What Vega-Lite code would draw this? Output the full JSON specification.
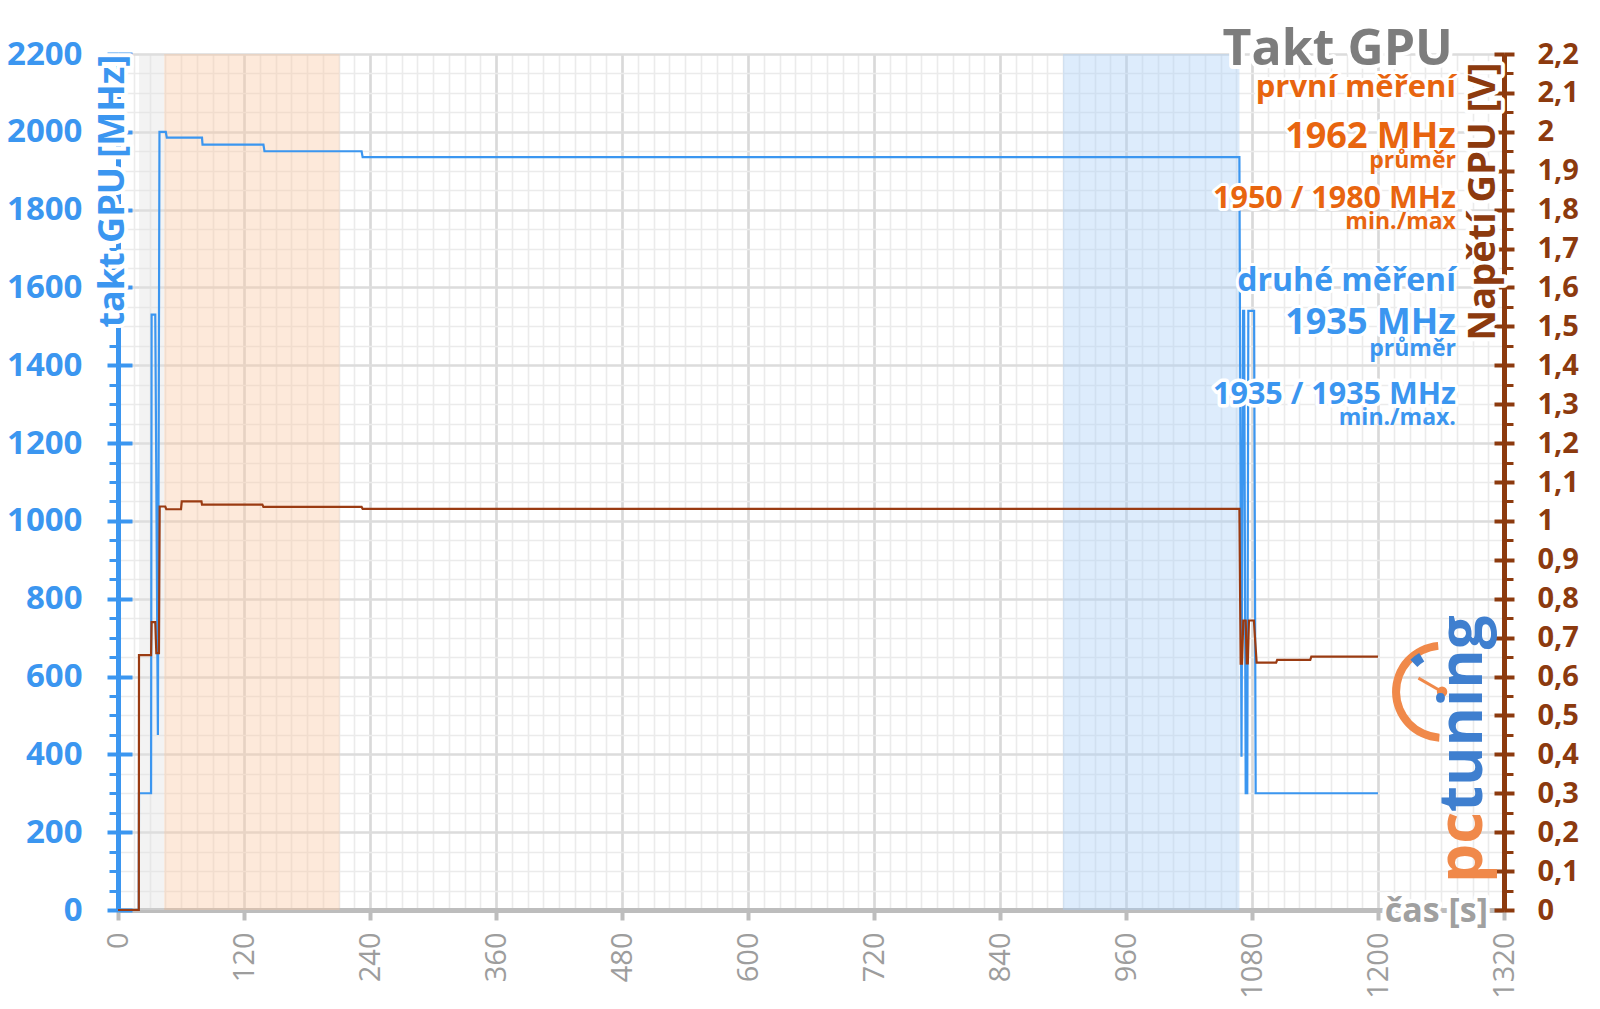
{
  "$schema": "https://vega.github.io/schema/vega-lite/v6.json",
  "width": 1386,
  "height": 856,
  "autosize": {"type": "none"},
  "padding": {"left": 118, "top": 54, "right": 96, "bottom": 99},
  "background": "white",
  "config": {
    "view": {"stroke": null},
    "font": "Open Sans",
    "axis": {"labelFont": "Open Sans", "titleFont": "Open Sans", "labelFlush": false, "labelOverlap": false, "labelBound": false}
  },
  "datasets": {
    "bands": [
      {"start": 20, "end": 44, "kind": "idle"},
      {"start": 44, "end": 211, "kind": "first"},
      {"start": 900, "end": 1068, "kind": "second"}
    ],
    "clock": [
      {"t": 0, "mhz": 0}, {"t": 19.8, "mhz": 0}, {"t": 20, "mhz": 300}, {"t": 31.5, "mhz": 300},
      {"t": 32, "mhz": 1530}, {"t": 35.5, "mhz": 1530}, {"t": 38, "mhz": 450}, {"t": 39.5, "mhz": 2000},
      {"t": 45.5, "mhz": 2000}, {"t": 46.5, "mhz": 1985}, {"t": 80, "mhz": 1985}, {"t": 80.5, "mhz": 1967},
      {"t": 138.5, "mhz": 1967}, {"t": 139.5, "mhz": 1950}, {"t": 232, "mhz": 1950}, {"t": 233, "mhz": 1935},
      {"t": 1068, "mhz": 1935}, {"t": 1070, "mhz": 394}, {"t": 1071.5, "mhz": 1540}, {"t": 1072.5, "mhz": 1540},
      {"t": 1074, "mhz": 300}, {"t": 1075.5, "mhz": 300}, {"t": 1076.5, "mhz": 1540}, {"t": 1082, "mhz": 1540},
      {"t": 1083.5, "mhz": 300}, {"t": 1200, "mhz": 300}
    ],
    "volt": [
      {"t": 0, "v": 0}, {"t": 19.8, "v": 0}, {"t": 20, "v": 0.655}, {"t": 31.5, "v": 0.655},
      {"t": 32, "v": 0.74}, {"t": 35.5, "v": 0.74}, {"t": 36.5, "v": 0.66}, {"t": 39, "v": 0.66},
      {"t": 39.7, "v": 1.037}, {"t": 45, "v": 1.037}, {"t": 46, "v": 1.03}, {"t": 60, "v": 1.03},
      {"t": 60.7, "v": 1.05}, {"t": 79.5, "v": 1.05}, {"t": 80, "v": 1.042}, {"t": 137.5, "v": 1.042},
      {"t": 138.5, "v": 1.036}, {"t": 232, "v": 1.036}, {"t": 233, "v": 1.031}, {"t": 1068, "v": 1.031},
      {"t": 1069.2, "v": 0.633}, {"t": 1070.5, "v": 0.633}, {"t": 1071.7, "v": 0.744}, {"t": 1074, "v": 0.744},
      {"t": 1075, "v": 0.634}, {"t": 1076, "v": 0.634}, {"t": 1077.1, "v": 0.744}, {"t": 1081.8, "v": 0.744},
      {"t": 1084.4, "v": 0.636}, {"t": 1103, "v": 0.636}, {"t": 1104, "v": 0.643}, {"t": 1135.5, "v": 0.643},
      {"t": 1136.5, "v": 0.651}, {"t": 1200, "v": 0.651}
    ]
  },
  "resolve": {"scale": {"y": "independent"}, "axis": {"x": "independent", "y": "independent"}},
  "layer": [
    {
      "data": {"name": "bands"},
      "mark": {"type": "rect", "opacity": 0.4},
      "encoding": {
        "x": {"field": "start", "type": "quantitative", "scale": {"domain": [0, 1320], "nice": false},
          "axis": {"orient": "bottom", "values": [0,15,30,45,60,75,90,105,120,135,150,165,180,195,210,225,240,255,270,285,300,315,330,345,360,375,390,405,420,435,450,465,480,495,510,525,540,555,570,585,600,615,630,645,660,675,690,705,720,735,750,765,780,795,810,825,840,855,870,885,900,915,930,945,960,975,990,1005,1020,1035,1050,1065,1080,1095,1110,1125,1140,1155,1170,1185,1200,1215,1230,1245,1260,1275,1290,1305,1320],
            "grid": true, "gridColor": "#ebebeb", "gridWidth": 1.6, "labels": false, "ticks": false, "domain": false, "title": null}},
        "x2": {"field": "end"},
        "y": {"datum": 0, "type": "quantitative", "scale": {"domain": [0, 2200], "nice": false},
          "axis": {"orient": "left", "values": [0,50,100,150,200,250,300,350,400,450,500,550,600,650,700,750,800,850,900,950,1000,1050,1100,1150,1200,1250,1300,1350,1400,1450,1500,1550,1600,1650,1700,1750,1800,1850,1900,1950,2000,2050,2100,2150,2200],
            "grid": true, "gridColor": "#ebebeb", "gridWidth": 1.6, "labels": false, "ticks": true, "tickColor": "#3b96f0", "tickSize": 9, "tickWidth": 3,
            "domain": true, "domainColor": "#3b96f0", "domainWidth": 5, "title": null}},
        "y2": {"datum": 2200},
        "color": {"field": "kind", "type": "nominal", "scale": {"domain": ["idle", "first", "second"], "range": ["#e2e2e2", "#f9c9a2", "#a9cff7"]}, "legend": null}
      }
    },
    {
      "data": {"name": "clock"},
      "mark": {"type": "line", "color": "#3b96f0", "strokeWidth": 2.2},
      "encoding": {
        "x": {"field": "t", "type": "quantitative", "scale": {"domain": [0, 1320], "nice": false},
          "axis": {"orient": "bottom", "values": [0,120,240,360,480,600,720,840,960,1080,1200,1320], "format": "d", "grid": true, "gridColor": "#d9d9d9", "gridWidth": 2.6,
            "labelAngle": 270, "labelFontSize": 29, "labelColor": "#9d9d9d", "labelFontWeight": "normal", "labelPadding": 12,
            "tickSize": 10, "tickWidth": 4, "tickColor": "#bdbdbd", "domainColor": "#bdbdbd", "domainWidth": 5, "title": null}},
        "y": {"field": "mhz", "type": "quantitative", "scale": {"domain": [0, 2200], "nice": false},
          "axis": {"orient": "left", "values": [0,200,400,600,800,1000,1200,1400,1600,1800,2000,2200], "format": "d", "grid": true, "gridColor": "#dcdcdc", "gridWidth": 2.4,
            "labelFontSize": 33, "labelFontWeight": "bold", "labelColor": "#3b96f0", "labelPadding": 25,
            "tickSize": 11, "tickWidth": 4, "tickColor": "#3b96f0", "domain": false, "title": null}}
      }
    },
    {
      "data": {"name": "volt"},
      "mark": {"type": "line", "color": "#9a3b12", "strokeWidth": 2.2},
      "encoding": {
        "x": {"field": "t", "type": "quantitative", "scale": {"domain": [0, 1320], "nice": false}, "axis": null},
        "y": {"field": "v", "type": "quantitative", "scale": {"domain": [0, 2.2], "nice": false},
          "axis": {"orient": "right", "values": [0,0.1,0.2,0.3,0.4,0.5,0.6,0.7,0.8,0.9,1,1.1,1.2,1.3,1.4,1.5,1.6,1.7,1.8,1.9,2,2.1,2.2],
            "format": ".1~f", "labelExpr": "replace(datum.label, '.', ',')", "grid": false,
            "labelFontSize": 29, "labelFontWeight": "bold", "labelColor": "#8c3a0e", "labelPadding": 23,
            "tickSize": 10, "tickWidth": 4, "tickColor": "#8c3a0e", "domain": true, "domainColor": "#8c3a0e", "domainWidth": 5, "title": null}}
      }
    },
    {
      "data": {"values": [{}]},
      "mark": {"type": "arc", "radius": 50, "radius2": 42, "theta": 3.2, "theta2": 6.2, "color": "#f0894a"},
      "encoding": {
        "x": {"datum": 1261, "type": "quantitative", "scale": {"domain": [0, 1320], "nice": false}, "axis": null},
        "y": {"datum": 561, "type": "quantitative", "scale": {"domain": [0, 2200], "nice": false}, "axis": null}
      }
    },
    {
      "data": {"values": [{}]},
      "mark": {"type": "arc", "radius": 45, "radius2": 35, "theta": 5.5, "theta2": 5.75, "color": "#3f7fcf"},
      "encoding": {
        "x": {"datum": 1261, "type": "quantitative", "scale": {"domain": [0, 1320], "nice": false}, "axis": null},
        "y": {"datum": 561, "type": "quantitative", "scale": {"domain": [0, 2200], "nice": false}, "axis": null}
      }
    },
    {
      "data": {"values": [{}]},
      "mark": {"type": "rule", "color": "#f0894a", "strokeWidth": 3},
      "encoding": {
        "x": {"datum": 1238.5, "type": "quantitative", "scale": {"domain": [0, 1320], "nice": false}, "axis": null},
        "x2": {"datum": 1261},
        "y": {"datum": 596, "type": "quantitative", "scale": {"domain": [0, 2200], "nice": false}, "axis": null},
        "y2": {"datum": 561}
      }
    },
    {
      "data": {"values": [{}]},
      "mark": {"type": "point", "filled": true, "size": 110, "opacity": 1, "color": "#f0894a"},
      "encoding": {
        "x": {"datum": 1261, "type": "quantitative", "scale": {"domain": [0, 1320], "nice": false}, "axis": null},
        "y": {"datum": 561, "type": "quantitative", "scale": {"domain": [0, 2200], "nice": false}, "axis": null}
      }
    },
    {
      "data": {"values": [{}]},
      "mark": {"type": "text", "text": "pc", "angle": 270, "align": "right", "baseline": "alphabetic", "fontSize": 62, "fontWeight": "bold", "font": "Open Sans", "fill": "#f0894a"},
      "encoding": {
        "x": {"datum": 1299, "type": "quantitative", "scale": {"domain": [0, 1320], "nice": false}, "axis": null},
        "y": {"datum": 252, "type": "quantitative", "scale": {"domain": [0, 2200], "nice": false}, "axis": null}
      }
    },
    {
      "data": {"values": [{}]},
      "mark": {"type": "text", "text": "tuning", "angle": 270, "align": "left", "baseline": "alphabetic", "fontSize": 60, "fontWeight": "bold", "font": "Open Sans", "fill": "#3f7fcf"},
      "encoding": {
        "x": {"datum": 1299, "type": "quantitative", "scale": {"domain": [0, 1320], "nice": false}, "axis": null},
        "y": {"datum": 252, "type": "quantitative", "scale": {"domain": [0, 2200], "nice": false}, "axis": null}
      }
    },
    {
      "data": {"values": [{}]},
      "mark": {"type": "text", "text": "takt GPU [MHz]", "angle": 270, "align": "right", "baseline": "alphabetic", "fontSize": 36, "fontWeight": "bold", "font": "Open Sans", "fill": "white", "stroke": "white", "strokeWidth": 8, "strokeJoin": "round"},
      "encoding": {
        "x": {"datum": 5.4, "type": "quantitative", "scale": {"domain": [0, 1320], "nice": false}, "axis": null},
        "y": {"datum": 2198, "type": "quantitative", "scale": {"domain": [0, 2200], "nice": false}, "axis": null}
      }
    },
    {
      "data": {"values": [{}]},
      "mark": {"type": "text", "text": "takt GPU [MHz]", "angle": 270, "align": "right", "baseline": "alphabetic", "fontSize": 36, "fontWeight": "bold", "font": "Open Sans", "fill": "#3b96f0"},
      "encoding": {
        "x": {"datum": 5.4, "type": "quantitative", "scale": {"domain": [0, 1320], "nice": false}, "axis": null},
        "y": {"datum": 2198, "type": "quantitative", "scale": {"domain": [0, 2200], "nice": false}, "axis": null}
      }
    },
    {
      "data": {"values": [{}]},
      "mark": {"type": "text", "text": "Napětí GPU [V]", "angle": 270, "align": "right", "baseline": "alphabetic", "fontSize": 38, "fontWeight": "bold", "font": "Open Sans", "fill": "white", "stroke": "white", "strokeWidth": 8, "strokeJoin": "round"},
      "encoding": {
        "x": {"datum": 1311.4, "type": "quantitative", "scale": {"domain": [0, 1320], "nice": false}, "axis": null},
        "y": {"datum": 2178, "type": "quantitative", "scale": {"domain": [0, 2200], "nice": false}, "axis": null}
      }
    },
    {
      "data": {"values": [{}]},
      "mark": {"type": "text", "text": "Napětí GPU [V]", "angle": 270, "align": "right", "baseline": "alphabetic", "fontSize": 38, "fontWeight": "bold", "font": "Open Sans", "fill": "#8c3a0e"},
      "encoding": {
        "x": {"datum": 1311.4, "type": "quantitative", "scale": {"domain": [0, 1320], "nice": false}, "axis": null},
        "y": {"datum": 2178, "type": "quantitative", "scale": {"domain": [0, 2200], "nice": false}, "axis": null}
      }
    },
    {
      "data": {"values": [{}]},
      "mark": {"type": "text", "text": "čas [s]", "align": "left", "baseline": "middle", "fontSize": 34, "fontWeight": "bold", "font": "Open Sans", "fill": "white", "stroke": "white", "strokeWidth": 8, "strokeJoin": "round"},
      "encoding": {
        "x": {"datum": 1206.5, "type": "quantitative", "scale": {"domain": [0, 1320], "nice": false}, "axis": null},
        "y": {"datum": -5, "type": "quantitative", "scale": {"domain": [0, 2200], "nice": false}, "axis": null}
      }
    },
    {
      "data": {"values": [{}]},
      "mark": {"type": "text", "text": "čas [s]", "align": "left", "baseline": "middle", "fontSize": 34, "fontWeight": "bold", "font": "Open Sans", "fill": "#a0a0a0"},
      "encoding": {
        "x": {"datum": 1206.5, "type": "quantitative", "scale": {"domain": [0, 1320], "nice": false}, "axis": null},
        "y": {"datum": -5, "type": "quantitative", "scale": {"domain": [0, 2200], "nice": false}, "axis": null}
      }
    },
    {
      "data": {"values": [{}]},
      "mark": {"type": "text", "text": "Takt GPU", "align": "right", "baseline": "alphabetic", "fontSize": 50, "fontWeight": "bold", "font": "Open Sans", "fill": "white", "stroke": "white", "strokeWidth": 8, "strokeJoin": "round"},
      "encoding": {
        "x": {"datum": 1271.3, "type": "quantitative", "scale": {"domain": [0, 1320], "nice": false}, "axis": null},
        "y": {"datum": 2172, "type": "quantitative", "scale": {"domain": [0, 2200], "nice": false}, "axis": null}
      }
    },
    {
      "data": {"values": [{}]},
      "mark": {"type": "text", "text": "Takt GPU", "align": "right", "baseline": "alphabetic", "fontSize": 50, "fontWeight": "bold", "font": "Open Sans", "fill": "#7d7d7d"},
      "encoding": {
        "x": {"datum": 1271.3, "type": "quantitative", "scale": {"domain": [0, 1320], "nice": false}, "axis": null},
        "y": {"datum": 2172, "type": "quantitative", "scale": {"domain": [0, 2200], "nice": false},
          "axis": {"orient": "left", "values": [0,200,400,600,800,1000,1200,1400,1600,1800,2000,2200], "grid": false, "labels": false, "domain": false,
            "ticks": true, "tickSize": -14, "tickWidth": 4, "tickColor": "#3b96f0", "title": null}}
      }
    },
    {
      "data": {"values": [{}]},
      "mark": {"type": "text", "text": "první měření", "align": "right", "baseline": "alphabetic", "fontSize": 31, "fontWeight": "bold", "font": "Open Sans", "fill": "white", "stroke": "white", "strokeWidth": 6, "strokeJoin": "round"},
      "encoding": {
        "x": {"datum": 1274.2, "type": "quantitative", "scale": {"domain": [0, 1320], "nice": false}, "axis": null},
        "y": {"datum": 2090, "type": "quantitative", "scale": {"domain": [0, 2200], "nice": false}, "axis": null}
      }
    },
    {
      "data": {"values": [{}]},
      "mark": {"type": "text", "text": "první měření", "align": "right", "baseline": "alphabetic", "fontSize": 31, "fontWeight": "bold", "font": "Open Sans", "fill": "#e8650f"},
      "encoding": {
        "x": {"datum": 1274.2, "type": "quantitative", "scale": {"domain": [0, 1320], "nice": false}, "axis": null},
        "y": {"datum": 2090, "type": "quantitative", "scale": {"domain": [0, 2200], "nice": false},
          "axis": {"orient": "right", "values": [0,50,100,150,200,250,300,350,400,450,500,550,600,650,700,750,800,850,900,950,1000,1050,1100,1150,1200,1250,1300,1350,1400,1450,1500,1550,1600,1650,1700,1750,1800,1850,1900,1950,2000,2050,2100,2150,2200],
            "grid": false, "labels": false, "domain": false, "ticks": true, "tickSize": 9, "tickWidth": 3, "tickColor": "#8c3a0e", "title": null}}
      }
    },
    {
      "data": {"values": [{}]},
      "mark": {"type": "text", "text": "1962 MHz", "align": "right", "baseline": "alphabetic", "fontSize": 36, "fontWeight": "bold", "font": "Open Sans", "fill": "white", "stroke": "white", "strokeWidth": 6, "strokeJoin": "round"},
      "encoding": {
        "x": {"datum": 1274.2, "type": "quantitative", "scale": {"domain": [0, 1320], "nice": false}, "axis": null},
        "y": {"datum": 1959, "type": "quantitative", "scale": {"domain": [0, 2200], "nice": false}, "axis": null}
      }
    },
    {
      "data": {"values": [{}]},
      "mark": {"type": "text", "text": "1962 MHz", "align": "right", "baseline": "alphabetic", "fontSize": 36, "fontWeight": "bold", "font": "Open Sans", "fill": "#e8650f"},
      "encoding": {
        "x": {"datum": 1274.2, "type": "quantitative", "scale": {"domain": [0, 1320], "nice": false}, "axis": null},
        "y": {"datum": 1959, "type": "quantitative", "scale": {"domain": [0, 2200], "nice": false},
          "axis": {"orient": "right", "values": [0,100,200,300,400,500,600,700,800,900,1000,1100,1200,1300,1400,1500,1600,1700,1800,1900,2000,2100,2200],
            "grid": false, "labels": false, "domain": false, "ticks": true, "tickSize": -10, "tickWidth": 4, "tickColor": "#8c3a0e", "title": null}}
      }
    },
    {
      "data": {"values": [{}]},
      "mark": {"type": "text", "text": "průměr", "align": "right", "baseline": "alphabetic", "fontSize": 23, "fontWeight": "bold", "font": "Open Sans", "fill": "#e8650f"},
      "encoding": {
        "x": {"datum": 1274.2, "type": "quantitative", "scale": {"domain": [0, 1320], "nice": false}, "axis": null},
        "y": {"datum": 1906, "type": "quantitative", "scale": {"domain": [0, 2200], "nice": false}, "axis": null}
      }
    },
    {
      "data": {"values": [{}]},
      "mark": {"type": "text", "text": "1950 / 1980 MHz", "align": "right", "baseline": "alphabetic", "fontSize": 30.5, "fontWeight": "bold", "font": "Open Sans", "fill": "white", "stroke": "white", "strokeWidth": 6, "strokeJoin": "round"},
      "encoding": {
        "x": {"datum": 1274.2, "type": "quantitative", "scale": {"domain": [0, 1320], "nice": false}, "axis": null},
        "y": {"datum": 1804, "type": "quantitative", "scale": {"domain": [0, 2200], "nice": false}, "axis": null}
      }
    },
    {
      "data": {"values": [{}]},
      "mark": {"type": "text", "text": "1950 / 1980 MHz", "align": "right", "baseline": "alphabetic", "fontSize": 30.5, "fontWeight": "bold", "font": "Open Sans", "fill": "#e8650f"},
      "encoding": {
        "x": {"datum": 1274.2, "type": "quantitative", "scale": {"domain": [0, 1320], "nice": false}, "axis": null},
        "y": {"datum": 1804, "type": "quantitative", "scale": {"domain": [0, 2200], "nice": false}, "axis": null}
      }
    },
    {
      "data": {"values": [{}]},
      "mark": {"type": "text", "text": "min./max", "align": "right", "baseline": "alphabetic", "fontSize": 23, "fontWeight": "bold", "font": "Open Sans", "fill": "#e8650f"},
      "encoding": {
        "x": {"datum": 1274.2, "type": "quantitative", "scale": {"domain": [0, 1320], "nice": false}, "axis": null},
        "y": {"datum": 1751, "type": "quantitative", "scale": {"domain": [0, 2200], "nice": false}, "axis": null}
      }
    },
    {
      "data": {"values": [{}]},
      "mark": {"type": "text", "text": "druhé měření", "align": "right", "baseline": "alphabetic", "fontSize": 32, "fontWeight": "bold", "font": "Open Sans", "fill": "white", "stroke": "white", "strokeWidth": 6, "strokeJoin": "round"},
      "encoding": {
        "x": {"datum": 1274.2, "type": "quantitative", "scale": {"domain": [0, 1320], "nice": false}, "axis": null},
        "y": {"datum": 1590, "type": "quantitative", "scale": {"domain": [0, 2200], "nice": false}, "axis": null}
      }
    },
    {
      "data": {"values": [{}]},
      "mark": {"type": "text", "text": "druhé měření", "align": "right", "baseline": "alphabetic", "fontSize": 32, "fontWeight": "bold", "font": "Open Sans", "fill": "#3b96f0"},
      "encoding": {
        "x": {"datum": 1274.2, "type": "quantitative", "scale": {"domain": [0, 1320], "nice": false}, "axis": null},
        "y": {"datum": 1590, "type": "quantitative", "scale": {"domain": [0, 2200], "nice": false}, "axis": null}
      }
    },
    {
      "data": {"values": [{}]},
      "mark": {"type": "text", "text": "1935 MHz", "align": "right", "baseline": "alphabetic", "fontSize": 36, "fontWeight": "bold", "font": "Open Sans", "fill": "white", "stroke": "white", "strokeWidth": 6, "strokeJoin": "round"},
      "encoding": {
        "x": {"datum": 1274.2, "type": "quantitative", "scale": {"domain": [0, 1320], "nice": false}, "axis": null},
        "y": {"datum": 1481, "type": "quantitative", "scale": {"domain": [0, 2200], "nice": false}, "axis": null}
      }
    },
    {
      "data": {"values": [{}]},
      "mark": {"type": "text", "text": "1935 MHz", "align": "right", "baseline": "alphabetic", "fontSize": 36, "fontWeight": "bold", "font": "Open Sans", "fill": "#3b96f0"},
      "encoding": {
        "x": {"datum": 1274.2, "type": "quantitative", "scale": {"domain": [0, 1320], "nice": false}, "axis": null},
        "y": {"datum": 1481, "type": "quantitative", "scale": {"domain": [0, 2200], "nice": false}, "axis": null}
      }
    },
    {
      "data": {"values": [{}]},
      "mark": {"type": "text", "text": "průměr", "align": "right", "baseline": "alphabetic", "fontSize": 23, "fontWeight": "bold", "font": "Open Sans", "fill": "#3b96f0"},
      "encoding": {
        "x": {"datum": 1274.2, "type": "quantitative", "scale": {"domain": [0, 1320], "nice": false}, "axis": null},
        "y": {"datum": 1425, "type": "quantitative", "scale": {"domain": [0, 2200], "nice": false}, "axis": null}
      }
    },
    {
      "data": {"values": [{}]},
      "mark": {"type": "text", "text": "1935 / 1935 MHz", "align": "right", "baseline": "alphabetic", "fontSize": 30.5, "fontWeight": "bold", "font": "Open Sans", "fill": "white", "stroke": "white", "strokeWidth": 7, "strokeJoin": "round"},
      "encoding": {
        "x": {"datum": 1274.2, "type": "quantitative", "scale": {"domain": [0, 1320], "nice": false}, "axis": null},
        "y": {"datum": 1301, "type": "quantitative", "scale": {"domain": [0, 2200], "nice": false}, "axis": null}
      }
    },
    {
      "data": {"values": [{}]},
      "mark": {"type": "text", "text": "1935 / 1935 MHz", "align": "right", "baseline": "alphabetic", "fontSize": 30.5, "fontWeight": "bold", "font": "Open Sans", "fill": "#3b96f0"},
      "encoding": {
        "x": {"datum": 1274.2, "type": "quantitative", "scale": {"domain": [0, 1320], "nice": false}, "axis": null},
        "y": {"datum": 1301, "type": "quantitative", "scale": {"domain": [0, 2200], "nice": false}, "axis": null}
      }
    },
    {
      "data": {"values": [{}]},
      "mark": {"type": "text", "text": "min./max.", "align": "right", "baseline": "alphabetic", "fontSize": 23, "fontWeight": "bold", "font": "Open Sans", "fill": "#3b96f0"},
      "encoding": {
        "x": {"datum": 1274.2, "type": "quantitative", "scale": {"domain": [0, 1320], "nice": false}, "axis": null},
        "y": {"datum": 1247, "type": "quantitative", "scale": {"domain": [0, 2200], "nice": false}, "axis": null}
      }
    }
  ]
}
